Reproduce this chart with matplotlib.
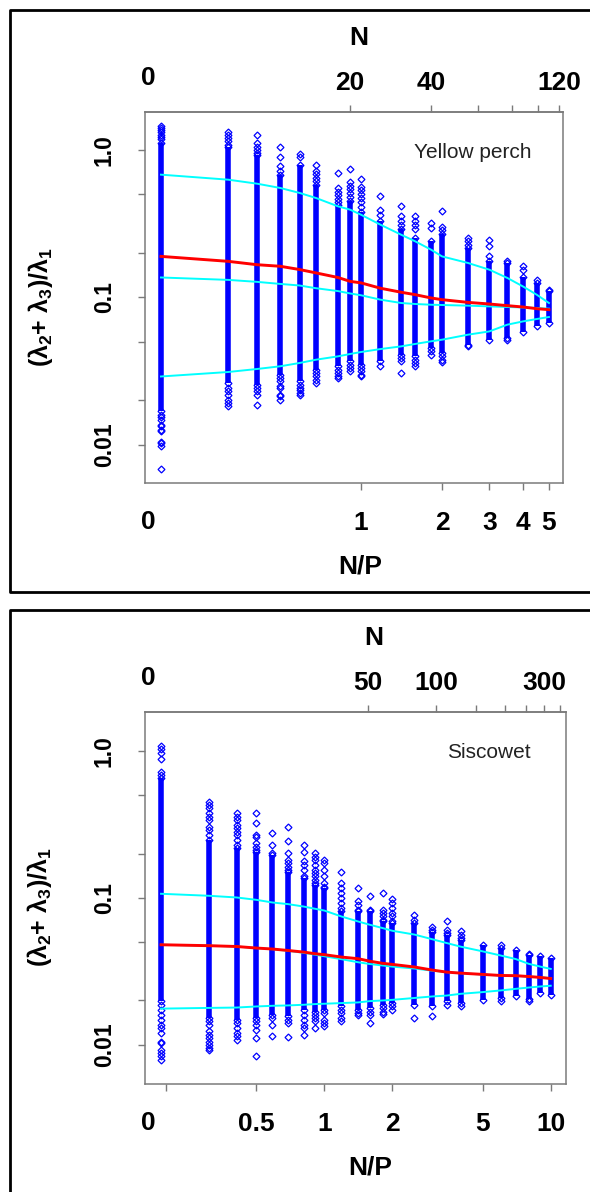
import matplotlib
matplotlib.use('Agg')
import matplotlib.pyplot as plt
from matplotlib.lines import Line2D
from matplotlib.ticker import NullLocator

plt.rcParams['font.family'] = ['Liberation Sans', 'DejaVu Sans']
plt.rcParams['mathtext.fontset'] = 'custom'
plt.rcParams['mathtext.rm'] = 'Liberation Sans:bold'
plt.rcParams['mathtext.it'] = 'Liberation Sans:bold'
plt.rcParams['mathtext.bf'] = 'Liberation Sans:bold'

# ---------------- Yellow perch (P = 22) ----------------
perch_P = 22
perch_np = [0.18, 0.32, 0.41, 0.50, 0.59, 0.68, 0.82, 0.91, 1.0, 1.18,
            1.41, 1.59, 1.82, 2.0, 2.5, 3.0, 3.5, 4.0, 4.5, 5.0]
perch_hi = [1.11, 1.05, 0.925, 0.677, 0.79, 0.58, 0.42, 0.45, 0.38, 0.33,
            0.29, 0.25, 0.24, 0.27, 0.216, 0.175, 0.170, 0.136, 0.125, 0.110]
perch_lo = [0.0168, 0.0262, 0.0255, 0.0298, 0.0269, 0.0322, 0.0340, 0.0367, 0.0348, 0.0367,
            0.0407, 0.0397, 0.0452, 0.0418, 0.0476, 0.0515, 0.0529, 0.0577, 0.0634, 0.0668]
perch_top = [[1.44, 1.40, 1.35, 1.31, 1.26, 1.22, 1.18],
             [1.31, 1.26, 1.20, 1.14, 1.08],
             [1.25, 1.11, 1.05, 1.0, 0.95],
             [1.04, 0.887, 0.771, 0.713],
             [0.94, 0.89],
             [0.791, 0.72, 0.68, 0.64, 0.61],
             [0.695, 0.55, 0.52, 0.49, 0.46, 0.44],
             [0.743, 0.60, 0.57, 0.54, 0.51, 0.48],
             [0.633, 0.56, 0.53, 0.50, 0.47, 0.44, 0.41],
             [0.482, 0.39, 0.36],
             [0.413, 0.353, 0.33, 0.31],
             [0.353, 0.33, 0.31, 0.29],
             [0.318, 0.294],
             [0.386, 0.30, 0.285],
             [0.252, 0.239, 0.227],
             [0.243, 0.221, 0.189],
             [0.175],
             [0.162, 0.154],
             [0.130],
             [0.112]]
perch_bot = [[0.0160, 0.0154, 0.0148, 0.0137, 0.0133, 0.0126, 0.0123, 0.0105, 0.0103, 0.00974, 0.00684],
             [0.0242, 0.0230, 0.0218, 0.0202, 0.0192, 0.0184],
             [0.0242, 0.0230, 0.0218, 0.0187],
             [0.0283, 0.0269, 0.0249, 0.0242, 0.0218, 0.0213, 0.0202],
             [0.0255, 0.0242, 0.0236, 0.0224, 0.0218],
             [0.0306, 0.0290, 0.0276, 0.0262],
             [0.0322, 0.0306, 0.0290, 0.0283],
             [0.0348, 0.0331, 0.0314],
             [0.0331, 0.0314, 0.0298, 0.0290],
             [0.0343],
             [0.0387, 0.0367, 0.0306],
             [0.0377, 0.0358, 0.0340],
             [0.0429, 0.0407],
             [0.0397, 0.0377, 0.0364],
             [0.0464],
             [],
             [0.0515],
             [],
             [],
             []]
perch_upper = [0.677, 0.626, 0.588, 0.550, 0.509, 0.470, 0.413, 0.392, 0.362, 0.310,
               0.265, 0.239, 0.210, 0.189, 0.1705, 0.1536, 0.135, 0.1183, 0.104, 0.0913]
perch_median = [0.189, 0.175, 0.166, 0.162, 0.154, 0.146, 0.136, 0.128, 0.125, 0.115,
                0.108, 0.104, 0.0988, 0.0962, 0.0922, 0.0899, 0.0876, 0.0858, 0.0836, 0.0823]
perch_middle = [0.136, 0.131, 0.127, 0.123, 0.120, 0.115, 0.110, 0.106, 0.103, 0.0962,
                0.0913, 0.0899, 0.0889, 0.0885, 0.0876, 0.0866, 0.0858, 0.0852, 0.0845, 0.0836]
perch_lower = [0.0290, 0.0311, 0.0326, 0.0340, 0.0358, 0.0377, 0.0397, 0.0412, 0.0425, 0.0445,
               0.0464, 0.0482, 0.0502, 0.0515, 0.0557, 0.0586, 0.0651, 0.0685, 0.0711, 0.0734]

# ---------------- Siscowet (P = 32) ----------------
sis_P = 32
sis_np = [0.19, 0.31, 0.41, 0.5, 0.59, 0.69, 0.81, 0.91, 1.0, 1.19, 1.41, 1.59,
          1.81, 2.0, 2.5, 3.0, 3.47, 4.0, 5.0, 6.0, 7.0, 8.0, 9.0, 10.0]
sis_hi = [0.652, 0.248, 0.218, 0.206, 0.196, 0.151, 0.137, 0.1226, 0.117, 0.0807, 0.0807, 0.0807,
          0.069, 0.0673, 0.0673, 0.0587, 0.056, 0.0518, 0.0479, 0.0457, 0.0443, 0.041, 0.0399, 0.0389]
sis_lo = [0.0197, 0.0152, 0.0148, 0.0152, 0.0160, 0.0156, 0.0173, 0.0168, 0.0173, 0.0182, 0.0173, 0.0178,
          0.0187, 0.0192, 0.0187, 0.0182, 0.0197, 0.0192, 0.0202, 0.0208, 0.0213, 0.0205, 0.0225, 0.0219]
sis_top = [[1.08, 1.027, 0.965, 0.878, 0.723, 0.687],
           [0.452, 0.429, 0.408, 0.377, 0.357, 0.339, 0.305, 0.290, 0.268],
           [0.377, 0.357, 0.339, 0.314, 0.298, 0.282, 0.268, 0.248, 0.229],
           [0.377, 0.325, 0.268, 0.261, 0.236, 0.223, 0.212],
           [0.276, 0.227, 0.201],
           [0.305, 0.242, 0.203, 0.181, 0.172, 0.163, 0.155],
           [0.229, 0.206, 0.177, 0.168, 0.155, 0.140],
           [0.201, 0.191, 0.181, 0.168, 0.155, 0.147, 0.140, 0.133, 0.126],
           [0.181, 0.172, 0.155, 0.140, 0.126, 0.119],
           [0.149, 0.126, 0.116, 0.108, 0.0995, 0.092, 0.085],
           [0.116, 0.0944, 0.0896, 0.0829],
           [0.1036, 0.0829],
           [0.1076, 0.0829, 0.0787, 0.0746, 0.0708],
           [0.0985, 0.092, 0.0851, 0.0787, 0.0746, 0.069],
           [0.0766, 0.0708],
           [0.0632, 0.0606],
           [0.069, 0.0599, 0.0575],
           [0.0596, 0.056, 0.0532],
           [],
           [0.0474],
           [],
           [0.0416],
           [],
           []]
sis_bot = [[0.0187, 0.0173, 0.0160, 0.0148, 0.0137, 0.0130, 0.0120, 0.0105, 0.0103, 0.00925, 0.00878, 0.00832, 0.00791],
           [0.0144, 0.0137, 0.0123, 0.0117, 0.0111, 0.0105, 0.0100, 0.0095, 0.00925],
           [0.0141, 0.0130, 0.0120, 0.0114, 0.0108],
           [0.0144, 0.0137, 0.0126, 0.0111, 0.00832],
           [0.0152, 0.0137, 0.0114],
           [0.0148, 0.0141, 0.0112],
           [0.0160, 0.0148, 0.0137, 0.0130, 0.0117],
           [0.0160, 0.0152, 0.0144, 0.0130],
           [0.0164, 0.0148, 0.0141, 0.0135],
           [0.0173, 0.0164, 0.0152, 0.0144],
           [0.0164, 0.0160],
           [0.0168, 0.0160, 0.0141],
           [0.0178, 0.0168, 0.0162],
           [0.0182, 0.0173],
           [0.0152],
           [0.0156],
           [0.0187],
           [0.0182],
           [],
           [0.0199],
           [],
           [0.0197],
           [],
           []]
sis_upper = [0.1065, 0.1032, 0.1005, 0.0969, 0.0929, 0.0906, 0.0872, 0.0842, 0.0819, 0.0746, 0.069, 0.0655,
             0.0622, 0.0596, 0.0562, 0.0522, 0.0492, 0.0465, 0.0432, 0.0405, 0.0383, 0.0355, 0.034, 0.0328]
sis_median = [0.0479, 0.0472, 0.0466, 0.0455, 0.0448, 0.0438, 0.0427, 0.0416, 0.041, 0.0395, 0.0385, 0.037,
              0.0358, 0.0352, 0.0338, 0.0322, 0.0312, 0.0307, 0.0301, 0.0296, 0.0295, 0.0291, 0.0287, 0.0282]
sis_middle = [0.0479, 0.0472, 0.0466, 0.0455, 0.0447, 0.0436, 0.0422, 0.0410, 0.0400, 0.0382, 0.0364, 0.0354,
              0.0346, 0.0340, 0.0330, 0.0319, 0.0312, 0.0307, 0.0300, 0.0296, 0.0294, 0.0291, 0.0288, 0.0284]
sis_lower = [0.0176, 0.0178, 0.0179, 0.0182, 0.0184, 0.0185, 0.0187, 0.0189, 0.0190, 0.0192, 0.0194, 0.0198,
             0.0200, 0.0202, 0.0208, 0.0213, 0.0216, 0.0222, 0.0228, 0.0234, 0.0240, 0.0245, 0.0249, 0.0252]

y_ticks = [0.01, 0.02, 0.05, 0.1, 0.2, 0.5, 1.0]
y_labels = ['0.01', '', '', '0.1', '', '', '1.0']
ylab = '(λ$_2$+ λ$_3$)/λ$_1$'

BLUE = '#0000ff'
GREY = '#7a7a7a'


def draw_panel(ax, x, hi, lo, tops, bots, upper, middle, median, lower):
    ax.vlines(x, lo, hi, color=BLUE, lw=4.0, zorder=2)
    for xi, h, l, t, b in zip(x, hi, lo, tops, bots):
        ys = [h, l] + t + b
        ax.plot([xi] * len(ys), ys, ls='none', marker='D', ms=3.5,
                mfc='none', mec=BLUE, mew=0.9, zorder=3)
    ax.plot(x, upper, color='#00ffff', lw=1.4, zorder=4)
    ax.plot(x, middle, color='#00ffff', lw=1.4, zorder=4)
    ax.plot(x, lower, color='#00ffff', lw=1.4, zorder=4)
    ax.plot(x, median, color='#ff0000', lw=2.1, zorder=5)


def style_axes(ax, P, xlim, ylim, xt, xl, nt, nl, name, name_xy, nlab_x, np_x):
    ax.set_xscale('log')
    ax.set_yscale('log')
    ax.set_xlim(xlim)
    ax.set_ylim(ylim)
    ax.set_yticks(y_ticks, labels=y_labels)
    ax.set_xticks(xt, labels=xl)
    ax.xaxis.set_minor_locator(NullLocator())
    ax.yaxis.set_minor_locator(NullLocator())
    for s in ax.spines.values():
        s.set_color(GREY)
        s.set_linewidth(1.1)
    ax.tick_params(axis='both', color=GREY, width=1.0, length=5)
    ax.tick_params(axis='x', labelsize=19, pad=15)
    ax.tick_params(axis='y', labelsize=16.5, pad=16, labelrotation=90)
    for t in ax.get_yticklabels():
        t.set_va('center')
        t.set_fontweight('bold')
    for t in ax.get_xticklabels():
        t.set_fontweight('bold')

    sec = ax.secondary_xaxis('top', functions=(lambda v, p=P: v * p,
                                               lambda n, p=P: n / p))
    sec.set_xticks(nt, labels=nl)
    sec.xaxis.set_minor_locator(NullLocator())
    sec.spines['top'].set_color(GREY)
    sec.spines['top'].set_linewidth(1.1)
    sec.tick_params(axis='x', color=GREY, width=1.0, length=5, labelsize=19, pad=7)
    for t in sec.get_xticklabels():
        t.set_fontweight('bold')

    bold = dict(transform=ax.transAxes, ha='center', va='center',
                fontsize=19, fontweight='bold')
    ax.text(0.007, -0.105, '0', **bold)
    ax.text(0.007, 1.092, '0', **bold)
    ax.text(np_x, -0.225, 'N/P', **bold)
    ax.text(nlab_x, 1.2, 'N', **bold)
    ax.text(-0.251, 0.475, ylab, rotation=90, transform=ax.transAxes,
            ha='center', va='center', fontsize=18, fontweight='bold')
    ax.text(name_xy[0], name_xy[1], name, transform=ax.transAxes,
            ha='center', va='center', fontsize=15, color='#222222')


fig = plt.figure(figsize=(5.9, 11.92), dpi=100)

ax1 = fig.add_axes([145 / 590, 1 - 483 / 1192, 418 / 590, 371 / 1192])
draw_panel(ax1, perch_np, perch_hi, perch_lo, perch_top, perch_bot,
           perch_upper, perch_middle, perch_median, perch_lower)
style_axes(ax1, perch_P, (0.157, 5.64), (0.0055, 1.8),
           [1, 2, 3, 4, 5], ['1', '2', '3', '4', '5'],
           [20, 40, 60, 80, 100, 120], ['20', '40', '', '', '', '120'],
           'Yellow perch', (0.785, 0.892), 0.512, 0.514)

ax2 = fig.add_axes([145 / 590, 1 - 1084 / 1192, 421 / 590, 372 / 1192])
draw_panel(ax2, sis_np, sis_hi, sis_lo, sis_top, sis_bot,
           sis_upper, sis_middle, sis_median, sis_lower)
style_axes(ax2, sis_P, (0.1614, 11.68), (0.0054, 1.84),
           [0.2, 0.5, 1, 2, 5, 10], ['', '0.5', '1', '2', '5', '10'],
           [50, 100, 150, 200, 250, 300, 350], ['50', '100', '', '', '', '300', ''],
           'Siscowet', (0.817, 0.892), 0.544, 0.534)

# outer panel frames (open on the right)
for top, bottom in [(9.5, 592), (610, 1200)]:
    yt = 1 - top / 1192
    yb = 1 - bottom / 1192
    x0 = 9.5 / 590
    fig.add_artist(Line2D([1.05, x0, x0, 1.05], [yt, yt, yb, yb],
                          transform=fig.transFigure, color='black', lw=2.0))

fig.savefig('out.png', dpi=100)
